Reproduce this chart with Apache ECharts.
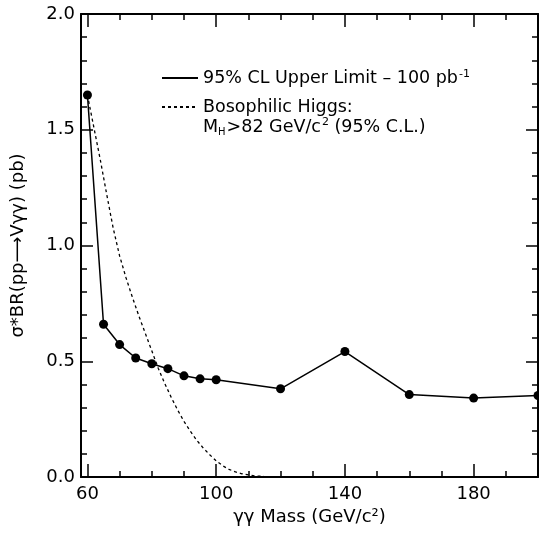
<!DOCTYPE html>
<html>
<head>
<meta charset="utf-8">
<script src="https://cdn.jsdelivr.net/npm/echarts@6/dist/echarts.min.js"></script>
<style>
html,body{margin:0;padding:0;background:#fff;}
#chart{width:539px;height:533px;}
</style>
</head>
<body>
<div id="chart"></div>
<script>
// Upper limit (solid line with markers)
const limitMass = [60, 65, 70, 75, 80, 85, 90, 95, 100, 120, 140, 160, 180, 200];
const limitValue = [1.65, 0.66, 0.572, 0.514, 0.489, 0.468, 0.437, 0.424, 0.42, 0.381, 0.542, 0.356, 0.341, 0.352];

// Bosophilic Higgs (dashed)
const higgsMass = [60, 62, 64, 66, 68, 70, 72, 74, 76, 78, 80, 82, 84, 86, 88, 90, 92, 94, 96, 98, 100, 102, 104, 106, 108, 110, 112, 115, 118, 122];
const higgsValue = [1.65, 1.51, 1.37, 1.22, 1.075, 0.955, 0.86, 0.775, 0.695, 0.62, 0.545, 0.47, 0.405, 0.345, 0.29, 0.24, 0.197, 0.158, 0.125, 0.096, 0.07, 0.049, 0.033, 0.022, 0.014, 0.009, 0.005, 0.002, 0.001, 0.0];

// Axis ticks
const xMajorTicks = [60, 100, 140, 180];
const xMinorTicks = [60, 70, 80, 90, 100, 110, 120, 130, 140, 150, 160, 170, 180, 190, 200];
const xMin = 58, xMax = 200;
const yMin = 0, yMax = 2, yInterval = 0.5;

const FONT = 'DejaVu Sans';
const lineCol = '#000';

function pairs(xs, ys) { return xs.map((x, i) => [x, ys[i]]); }

const chart = echarts.init(document.getElementById('chart'), null, {renderer: 'canvas'});

function xAxisDef(pos, major, showLabel, showLine) {
  return {
    type: 'value', position: pos, min: xMin, max: xMax,
    axisLine: {show: showLine, onZero: false, lineStyle: {color: lineCol, width: 2}},
    axisTick: {show: true, inside: true, length: major ? 13 : 6, customValues: major ? xMajorTicks : xMinorTicks,
      lineStyle: {color: lineCol, width: 1.5}},
    axisLabel: {show: showLabel, customValues: xMajorTicks, color: '#000', fontFamily: FONT, fontSize: 18, margin: 8},
    splitLine: {show: false}
  };
}

const SUP = {fontSize: 11, fontFamily: FONT, color: '#000', verticalAlign: 'top', padding: [0, 0, 8, 1]};

chart.setOption({
  animation: false,
  backgroundColor: '#fff',
  grid: {left: 81, right: 1, top: 14, bottom: 56, containLabel: false},
  xAxis: [
    Object.assign(xAxisDef('bottom', true, true, true), {
      name: 'γγ Mass (GeV/c²)', nameLocation: 'middle', nameGap: 29,
      nameTextStyle: {color: '#000', fontFamily: FONT, fontSize: 18}
    }),
    xAxisDef('bottom', false, false, false),
    xAxisDef('top', true, false, true),
    xAxisDef('top', false, false, false)
  ],
  yAxis: [
    {
      type: 'value', position: 'left', min: yMin, max: yMax, interval: yInterval,
      name: 'σ*BR(pp⟶Vγγ) (pb)', nameLocation: 'middle', nameGap: 54,
      nameTextStyle: {color: '#000', fontFamily: FONT, fontSize: 18},
      axisLine: {show: true, lineStyle: {color: lineCol, width: 2}},
      axisTick: {show: true, inside: true, length: 12, lineStyle: {color: lineCol, width: 1.5}},
      minorTick: {show: true, splitNumber: 5, length: 6, lineStyle: {color: lineCol, width: 1.5}},
      axisLabel: {color: '#000', fontFamily: FONT, fontSize: 18, margin: 6, formatter: v => v.toFixed(1)},
      splitLine: {show: false}, minorSplitLine: {show: false}
    },
    {
      type: 'value', position: 'right', min: yMin, max: yMax, interval: yInterval,
      axisLine: {show: true, lineStyle: {color: lineCol, width: 2}},
      axisTick: {show: true, inside: true, length: 12, lineStyle: {color: lineCol, width: 1.5}},
      minorTick: {show: true, splitNumber: 5, length: 6, lineStyle: {color: lineCol, width: 1.5}},
      axisLabel: {show: false},
      splitLine: {show: false}, minorSplitLine: {show: false}
    }
  ],
  legend: {
    show: true, orient: 'vertical', left: 156, top: 64,
    itemWidth: 36, itemHeight: 4, itemGap: 11,
    itemStyle: {opacity: 0},
    textStyle: {color: '#000', fontFamily: FONT, fontSize: 17.5, lineHeight: 18,
      rich: {sup: SUP}},
    formatter: function (name) {
      if (name === 'limit') return '95% CL Upper Limit – 100 pb{sup|-1}';
      return 'Bosophilic Higgs:';
    },
    data: ['limit', 'higgs']
  },
  title: {
    show: true, left: 203, top: 117, padding: 0,
    text: 'M{sub|H}>82 GeV/c{sup|2} (95% C.L.)',
    textStyle: {color: '#000', fontFamily: FONT, fontSize: 17.5, fontWeight: 'normal', lineHeight: 20,
      rich: {
        sub: {fontSize: 10, fontFamily: FONT, color: '#000', verticalAlign: 'bottom', padding: [6, 1, 0, 0]},
        sup: SUP
      }}
  },
  series: [
    {
      name: 'limit', type: 'line', xAxisIndex: 0, yAxisIndex: 0,
      data: pairs(limitMass, limitValue),
      symbol: 'circle', symbolSize: 9, showSymbol: true, clip: false,
      lineStyle: {color: '#000', width: 1.5, type: 'solid'},
      itemStyle: {color: '#000'}
    },
    {
      name: 'higgs', type: 'line', xAxisIndex: 0, yAxisIndex: 0,
      data: pairs(higgsMass, higgsValue),
      symbol: 'none', smooth: false,
      lineStyle: {color: '#000', width: 1.3, type: [3, 3]},
      itemStyle: {color: '#000'}
    }
  ]
});
</script>
</body>
</html>
